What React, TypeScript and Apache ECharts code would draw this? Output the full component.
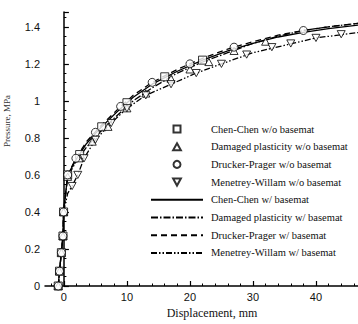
import { useEffect, useRef } from "react";
import * as echarts from "echarts";

// ---- axis ticks / labels ----
const xTickValues = [0, 10, 20, 30, 40, 50];
const xLabelValues = [0, 10, 20, 30, 40];
const xMinorTickValues = [-2, 2, 4, 6, 8, 12, 14, 16, 18, 22, 24, 26, 28, 32, 34, 36, 38, 42, 44, 46, 48];

// ---- series names ----
const seriesNames = [
  "Chen-Chen w/o basemat",
  "Damaged plasticity w/o basemat",
  "Drucker-Prager w/o basemat",
  "Menetrey-Willam w/o basemat",
  "Chen-Chen w/ basemat",
  "Damaged plasticity w/ basemat",
  "Drucker-Prager w/ basemat",
  "Menetrey-Willam w/ basemat",
];

// ---- w/ basemat curves (lines) ----
const dispUpper = [-0.9, -0.7, -0.4, -0.15, -0.05, 0.6, 1.9, 3.6, 5.7, 8.4, 11, 14, 18, 22, 26, 30, 34, 38, 42, 47];
const presChenChenW = [0, 0.08, 0.18, 0.27, 0.4, 0.6, 0.68, 0.77, 0.85, 0.94, 1.02, 1.09, 1.16, 1.22, 1.27, 1.31, 1.345, 1.37, 1.39, 1.41];
const presDamagedW = [0, 0.08, 0.18, 0.27, 0.4, 0.59, 0.67, 0.75, 0.83, 0.92, 1.0, 1.07, 1.15, 1.21, 1.26, 1.31, 1.35, 1.38, 1.4, 1.42];
const presDruckerW = [0, 0.08, 0.18, 0.27, 0.4, 0.6, 0.69, 0.78, 0.86, 0.95, 1.03, 1.1, 1.17, 1.23, 1.28, 1.32, 1.355, 1.38, 1.4, 1.42];
const dispMenetreyW = [-0.9, -0.7, -0.4, -0.15, -0.05, 0.6, 1.3, 2.2, 3.2, 5, 7.5, 10, 13, 17, 21, 25, 30, 35, 40, 47];
const presMenetreyW = [0, 0.08, 0.18, 0.27, 0.4, 0.5, 0.54, 0.6, 0.69, 0.79, 0.88, 0.96, 1.03, 1.09, 1.15, 1.2, 1.26, 1.3, 1.34, 1.37];

// ---- w/o basemat markers ----
const dispChenChenWo = [-0.9, -0.7, -0.4, -0.15, -0.05, 0.6, 2.5, 6, 10, 16, 22];
const presChenChenWo = [0, 0.08, 0.18, 0.27, 0.4, 0.6, 0.71, 0.86, 0.99, 1.13, 1.22];
const dispDamagedWo = [-0.9, -0.7, -0.4, -0.15, -0.05, 0.6, 2.4, 4.5, 7, 10, 13, 17, 20, 23, 27, 32];
const presDamagedWo = [0, 0.08, 0.18, 0.27, 0.4, 0.59, 0.69, 0.78, 0.86, 0.96, 1.04, 1.12, 1.17, 1.21, 1.27, 1.32];
const dispDruckerWo = [-0.9, -0.7, -0.4, -0.15, -0.05, 0.6, 1.9, 5, 9, 14, 20, 27, 38];
const presDruckerWo = [0, 0.08, 0.18, 0.27, 0.4, 0.6, 0.69, 0.83, 0.97, 1.1, 1.2, 1.29, 1.38];
const dispMenetreyWo = [1.3, 2.2, 3.2, 5, 7.5, 10, 13, 17, 21, 25, 29, 33, 36, 40, 44];
const presMenetreyWo = [0.54, 0.6, 0.69, 0.79, 0.88, 0.96, 1.03, 1.09, 1.15, 1.2, 1.25, 1.29, 1.31, 1.34, 1.36];

const zip = (xs: number[], ys: number[]) => xs.map((x, i) => [x, ys[i]]);

const SQUARE = "path://M0 0L10 0L10 10L0 10Z";
const TRI_UP = "path://M5 0L10 9L0 9Z";
const TRI_DOWN = "path://M0 0L10 0L5 9Z";

const markerSeries = (name: string, symbol: string, xs: number[], ys: number[]) => ({
  name,
  type: "scatter",
  symbol,
  symbolSize: 8,
  symbolKeepAspect: true,
  xAxisIndex: 0,
  yAxisIndex: 0,
  itemStyle: { color: "#ffffff", borderColor: "#000000", borderWidth: 1 },
  data: zip(xs, ys),
  z: 5,
});

const lineSeries = (name: string, dash: any, xs: number[], ys: number[]) => ({
  name,
  type: "line",
  symbol: "none",
  showSymbol: false,
  xAxisIndex: 0,
  yAxisIndex: 0,
  lineStyle: { color: "#000000", width: 1.3, type: dash },
  itemStyle: { color: "#000000" },
  data: zip(xs, ys),
  z: 3,
});

export default function App() {
  const ref = useRef<HTMLDivElement>(null);
  useEffect(() => {
    if (!ref.current) return;
    const chart = echarts.init(ref.current, null, { renderer: "svg" });
    const sans = "Liberation Sans";
    const serif = "Liberation Serif";
    const legendData = seriesNames.map((name, i) =>
      i < 4
        ? { name, symbolKeepAspect: true }
        : { name, itemStyle: { color: "rgba(0,0,0,0)", borderWidth: 0, opacity: 0 } }
    );
    chart.setOption({
      animation: false,
      backgroundColor: "#ffffff",
      grid: { left: 45, top: 12, width: 334, height: 284 },
      legend: {
        orient: "vertical",
        left: 150,
        top: 123,
        padding: 0,
        itemWidth: 52,
        itemHeight: 7,
        itemGap: 5.7,
        symbolKeepAspect: true,
        data: legendData,
        textStyle: { fontFamily: serif, fontSize: 10.5, color: "#111", lineHeight: 12, padding: [0, 0, 0, 3] },
      },
      xAxis: [
        {
          type: "value",
          min: -3,
          max: 50,
          position: "bottom",
          name: "Displacement, mm",
          nameLocation: "middle",
          nameGap: 21,
          nameTextStyle: { fontFamily: serif, fontSize: 12, color: "#111" },
          axisLine: { show: true, lineStyle: { color: "#000", width: 1.5 } },
          axisTick: { show: true, inside: true, length: 5, customValues: xTickValues, lineStyle: { color: "#000", width: 1.2 } },
          axisLabel: { customValues: xLabelValues, fontFamily: sans, fontSize: 11, color: "#111", margin: 5 },
          splitLine: { show: false },
        },
        {
          type: "value",
          min: -3,
          max: 50,
          position: "bottom",
          offset: 0,
          axisLine: { show: false },
          axisTick: { show: true, inside: true, length: 2.5, customValues: xMinorTickValues, lineStyle: { color: "#000", width: 1 } },
          axisLabel: { show: false },
          splitLine: { show: false },
        },
      ],
      yAxis: {
        type: "value",
        min: 0,
        max: 1.48,
        interval: 0.2,
        axisLine: { show: true, lineStyle: { color: "#000", width: 1.5 } },
        axisTick: { show: true, inside: true, length: 5, lineStyle: { color: "#000", width: 1.2 } },
        minorTick: { show: true, splitNumber: 4, length: 2.5, lineStyle: { color: "#000", width: 1 } },
        axisLabel: { showMaxLabel: false, fontFamily: sans, fontSize: 11, color: "#111", margin: 5 },
        splitLine: { show: false },
      },
      graphic: [
        {
          type: "text",
          x: 7,
          y: 121,
          rotation: Math.PI / 2,
          style: {
            text: "Pressure, MPa",
            fontFamily: serif,
            fontSize: 9,
            fill: "#333",
            align: "center",
            verticalAlign: "middle",
          },
        },
      ],
      series: [
        markerSeries(seriesNames[0], SQUARE, dispChenChenWo, presChenChenWo),
        markerSeries(seriesNames[1], TRI_UP, dispDamagedWo, presDamagedWo),
        markerSeries(seriesNames[2], "circle", dispDruckerWo, presDruckerWo),
        markerSeries(seriesNames[3], TRI_DOWN, dispMenetreyWo, presMenetreyWo),
        lineSeries(seriesNames[4], "solid", dispUpper, presChenChenW),
        lineSeries(seriesNames[5], [7, 2, 1.5, 2], dispUpper, presDamagedW),
        lineSeries(seriesNames[6], [6, 4], dispUpper, presDruckerW),
        lineSeries(seriesNames[7], [6, 2, 1.5, 2, 1.5, 2], dispMenetreyW, presMenetreyW),
      ],
    });
    return () => chart.dispose();
  }, []);
  return (
    <div style={{ position: "fixed", left: 0, top: 0, width: 358, height: 324, overflow: "hidden", background: "#fff" }}>
      <div ref={ref} style={{ width: 400, height: 324 }} />
    </div>
  );
}
